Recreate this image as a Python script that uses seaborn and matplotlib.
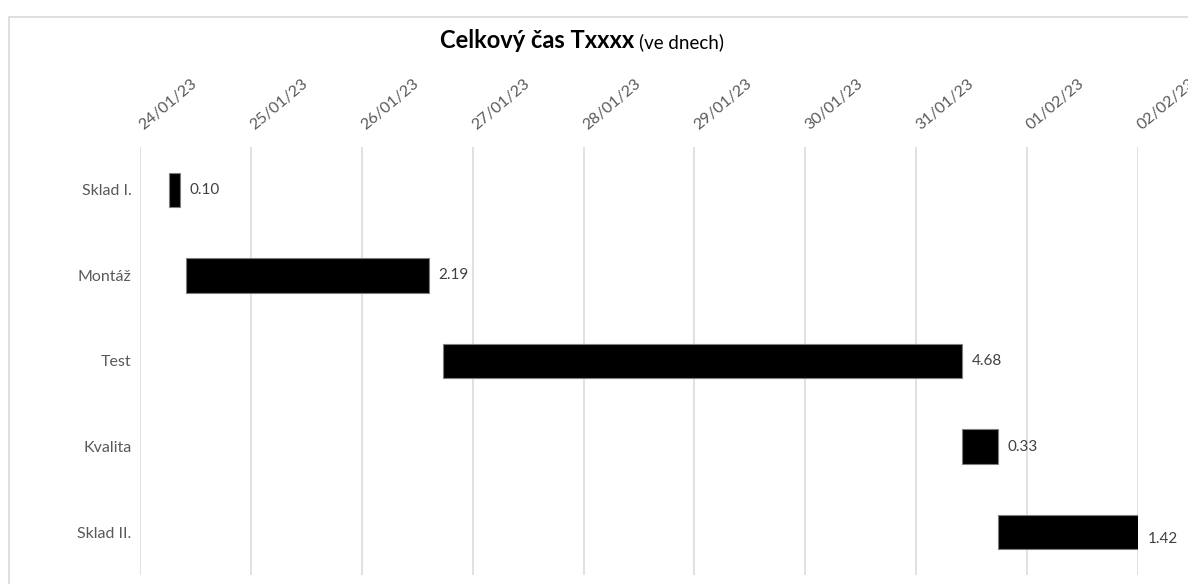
import matplotlib
matplotlib.use("Agg")
import matplotlib.pyplot as plt
import matplotlib.dates as mdates
import matplotlib.transforms as mtransforms
from matplotlib.patches import Rectangle
import pandas as pd
import seaborn as sns

# Process steps, their start times and durations (in days)
tasks = ["Sklad I.", "Montáž", "Test", "Kvalita", "Sklad II."]
start_times = [
    "2023-01-24 06:15",
    "2023-01-24 10:00",
    "2023-01-26 17:30",
    "2023-01-31 09:50",
    "2023-01-31 17:45",
]
durations_days = [0.10, 2.19, 4.68, 0.33, 1.42]

# Date axis
tick_dates = [
    "2023-01-24", "2023-01-25", "2023-01-26", "2023-01-27", "2023-01-28",
    "2023-01-29", "2023-01-30", "2023-01-31", "2023-02-01", "2023-02-02",
]
axis_start = "2023-01-24"
axis_end = "2023-02-02"

title_main = "Celkový čas Txxxx"
title_unit = "(ve dnech)"

sns.set_theme(style="white")
plt.rcParams["font.family"] = ["Lato", "DejaVu Sans"]

df = pd.DataFrame({
    "task": tasks,
    "start": mdates.date2num(pd.to_datetime(start_times)),
    "days": durations_days,
})

W, H = 1188, 584
fig = plt.figure(figsize=(W / 100, H / 100), dpi=100)
fig.patch.set_facecolor("white")

# Outer chart frame
fig.patches.append(Rectangle((9 / W, -0.1), 1.2, 1.1 - 17 / H,
                             transform=fig.transFigure, fill=False,
                             edgecolor="#d9d9d9", linewidth=1.2))

ax = fig.add_axes([140 / W, 1 - 575 / H, (1138 - 140) / W, (575 - 147) / H])

sns.barplot(data=df, x="days", y="task", orient="y", left=df["start"].values,
            color="black", saturation=1, width=0.4, ax=ax,
            edgecolor="#7f7f7f", linewidth=0.8)

xmin = mdates.date2num(pd.Timestamp(axis_start))
xmax = mdates.date2num(pd.Timestamp(axis_end))
ax.set_xlim(xmin, xmax)
ax.set_xticks(mdates.date2num(pd.to_datetime(tick_dates)))
ax.xaxis.set_major_formatter(mdates.DateFormatter("%d/%m/%y"))
ax.xaxis.tick_top()
ax.tick_params(axis="x", length=0, pad=12, labelsize=11.5, labelcolor="#595959")
shift = mtransforms.ScaledTranslation(4 / 100, 0, fig.dpi_scale_trans)
for lbl in ax.get_xticklabels():
    lbl.set_rotation(40)
    lbl.set_ha("left")
    lbl.set_va("baseline")
    lbl.set_rotation_mode("anchor")
    lbl.set_transform(lbl.get_transform() + shift)
ax.tick_params(axis="y", length=0, pad=6, labelsize=11.5, labelcolor="#595959")
ax.set_xlabel("")
ax.set_ylabel("")
ax.grid(axis="x", color="#d9d9d9", linewidth=1.1)
ax.grid(axis="y", visible=False)
ax.set_axisbelow(True)
for s in ax.spines.values():
    s.set_visible(False)

# Duration labels at the end of each bar (clipped bars get the label just below)
for i, (st, d) in enumerate(zip(df["start"], durations_days)):
    end = st + d
    clipped = end > xmax
    ax.annotate(f"{d:.2f}", xy=(min(end, xmax), i),
                xytext=(7, -5 if clipped else 0), textcoords="offset points",
                va="center", ha="left", fontsize=11, color="#404040",
                annotation_clip=False)

# Title: bold name followed by the unit in regular weight
t1 = fig.text(0, 1 - 48 / H, title_main, fontsize=17, fontweight="bold",
              color="black", va="baseline")
t2 = fig.text(0, 1 - 48 / H, title_unit, fontsize=13.5, color="black", va="baseline")
renderer = fig.canvas.get_renderer()
w1 = t1.get_window_extent(renderer).width
w2 = t2.get_window_extent(renderer).width
gap = 4
x0 = 582 - (w1 + gap + w2) / 2
t1.set_x(x0 / W)
t2.set_x((x0 + w1 + gap) / W)

fig.savefig("out.png", dpi=100)
